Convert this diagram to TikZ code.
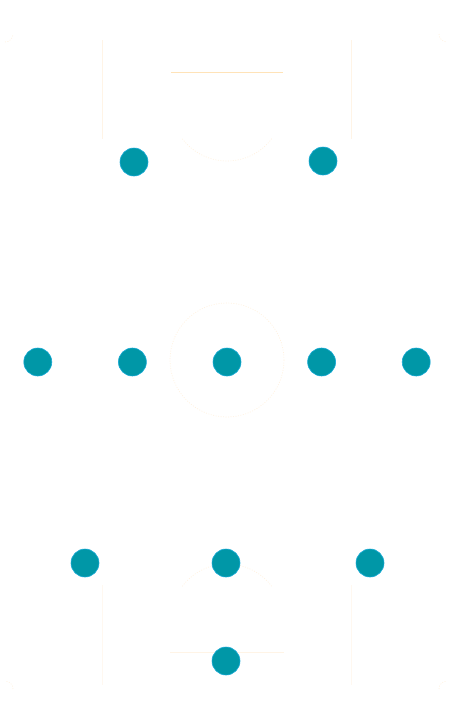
\documentclass[tikz,border=0pt]{standalone}
\usepackage{tikz}
\usetikzlibrary{positioning}
\definecolor{fmPlayer}{HTML}{0097A7}
\definecolor{fmRim}{HTML}{29B6F6}
\definecolor{fmLine}{HTML}{FFE3B8}
\definecolor{fmFaint}{HTML}{FFF4E6}
\definecolor{fmGhost}{HTML}{FFF2E0}
\tikzset{
  player/.style={circle, fill=fmPlayer, draw=fmRim!60!fmPlayer, line width=0.6pt,
    minimum size=28pt, inner sep=0pt},
  pitchline/.style={draw=fmFaint, line width=0.8pt},
  ghostline/.style={draw=fmGhost, line width=0.7pt, dash pattern=on 1pt off 1.5pt},
  boxline/.style={draw=fmLine, line width=1pt}
}

\begin{document}
\begin{tikzpicture}[x=1pt, y=-1pt, node distance=66pt]
  \useasboundingbox (0,0) rectangle (452,726);
  % pitch markings
  \draw[pitchline] (102,40) -- (102,139);
  \draw[pitchline] (351,40) -- (351,139);
  \draw[boxline] (171,72) -- (283,72);
  \draw[ghostline] (271.7,138.7) arc[start angle=37, end angle=143, radius=56];
  \draw[ghostline] (227,360) circle[radius=57];
  \draw[draw=fmFaint!60!white, line width=0.6pt] (102,585) -- (102,685);
  \draw[draw=fmFaint!60!white, line width=0.6pt] (351,585) -- (351,685);
  \draw[pitchline] (170,652) -- (284,652);
  \draw[ghostline] (182.3,586.3) arc[start angle=-143, end angle=-37, radius=56];
  \draw[ghostline] (5,34) ++(0,8) arc[start angle=90, end angle=0, radius=8];
  \draw[ghostline] (447,34) ++(-8,0) arc[start angle=180, end angle=90, radius=8];
  \draw[ghostline] (5,689) ++(8,0) arc[start angle=0, end angle=-90, radius=8];
  \draw[ghostline] (447,689) ++(-8,0) arc[start angle=180, end angle=270, radius=8];

  % players
  \node[player] (gk) at (226,661) {};
  \node[player] (cb) at (226,563) {};
  \node[player] (lb) at (85,563) {};
  \node[player] (rb) at (370,563) {};
  \node[player] (cm) at (227,362) {};
  \node[player, left=of cm] (lcm) {};
  \node[player, left=of lcm] (lm) {};
  \node[player, right=of cm] (rcm) {};
  \node[player, right=of rcm] (rm) {};
  \node[player] (lf) at (134,162) {};
  \node[player] (rf) at (323,161) {};
\end{tikzpicture}
\end{document}
